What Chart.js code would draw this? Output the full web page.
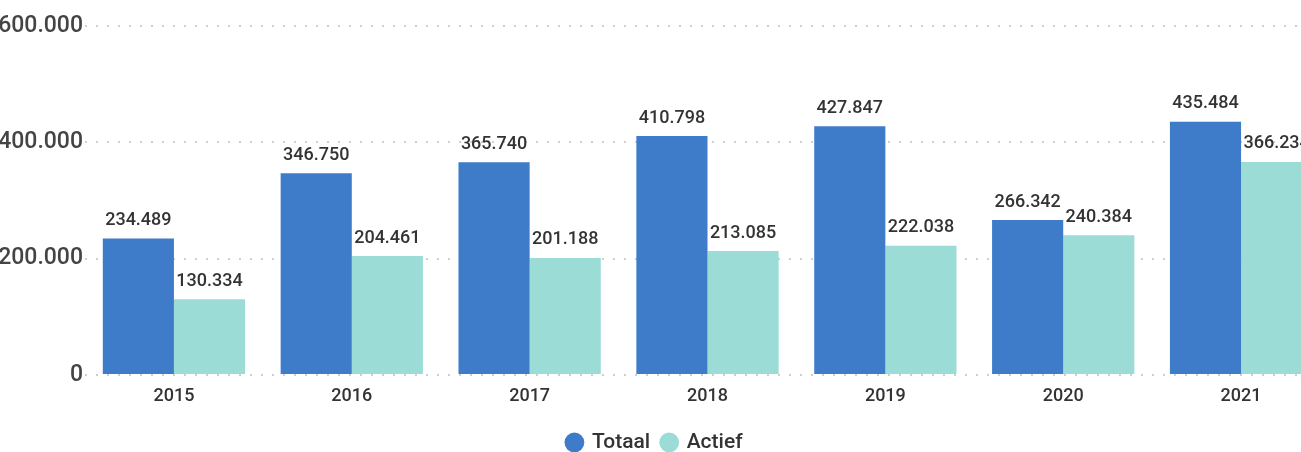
<!DOCTYPE html>
<html>
<head>
<meta charset="utf-8">
<script src="https://cdn.jsdelivr.net/npm/chart.js@4/dist/chart.umd.min.js"></script>
<style>
    html, body { margin: 0; padding: 0; background: #fff; overflow: hidden; width: 1301px; height: 452px; }
    #wrap { position: absolute; left: -20px; top: 0; width: 1370px; height: 452px; }
</style>
</head>
<body>
<div id="wrap"><canvas id="barChart" width="1370" height="452"></canvas></div>
<script>
const years = ["2015", "2016", "2017", "2018", "2019", "2020", "2021"];
const totaal = [234489, 346750, 365740, 410798, 427847, 266342, 435484];
const actief = [130334, 204461, 201188, 213085, 222038, 240384, 366234];
const yTicks = [0, 200000, 400000, 600000];

const fmt = (n) => n.toString().replace(/\B(?=(\d{3})+(?!\d))/g, ".");

// waarden boven de balken
const valueLabels = {
    id: "valueLabels",
    afterDatasetsDraw(chart) {
        const ctx = chart.ctx;
        ctx.save();
        ctx.font = "500 18px Roboto";
        ctx.fillStyle = "#333";
        ctx.textAlign = "center";
        ctx.textBaseline = "bottom";
        chart.data.datasets.forEach((ds, i) => {
            chart.getDatasetMeta(i).data.forEach((bar, j) => {
                ctx.fillText(fmt(ds.data[j]), bar.x, bar.y - 9);
            });
        });
        ctx.restore();
    }
};

window.onload = () => {
    const ctxBar = document.getElementById("barChart").getContext("2d");
    ctxBar.letterSpacing = "0.6px";
    new Chart(ctxBar, {
        type: "bar",
        data: {
            labels: years,
            datasets: [{
                label: "Totaal",
                data: totaal,
                backgroundColor: "#3E7CC9",
                categoryPercentage: 0.8,
                barPercentage: 1
            }, {
                label: "Actief",
                data: actief,
                backgroundColor: "#9CDCD7",
                categoryPercentage: 0.8,
                barPercentage: 1
            }]
        },
        options: {
            responsive: false,
            animation: false,
            layout: { padding: { left: 0, right: 20, top: 26, bottom: -11 } },
            scales: {
                x: {
                    afterFit: (scale) => { scale.height = 45; },
                    grid: { display: false },
                    border: { display: false },
                    ticks: { color: "#333", font: { family: "Roboto", size: 18, weight: "500" }, padding: 3 }
                },
                y: {
                    min: 0,
                    max: 600000,
                    afterFit: (scale) => { scale.width = 105; },
                    afterBuildTicks: (scale) => { scale.ticks = yTicks.map(v => ({ value: v })); },
                    border: { display: false, dash: [2, 9] },
                    grid: { color: "#cfcfcf", lineWidth: 2, tickLength: 0, drawTicks: false },
                    ticks: {
                        color: "#444",
                        padding: 2,
                        font: { family: "Roboto", size: 23, weight: "500" },
                        callback: (v) => fmt(v)
                    }
                }
            },
            plugins: {
                legend: {
                    position: "bottom",
                    labels: {
                        usePointStyle: true,
                        pointStyle: "circle",
                        boxWidth: 14,
                        boxHeight: 14,
                        padding: 12,
                        color: "#333",
                        font: { family: "Roboto", size: 21, weight: "500" }
                    }
                },
                tooltip: { enabled: false }
            }
        },
        plugins: [valueLabels]
    });
};
</script>
</body>
</html>
